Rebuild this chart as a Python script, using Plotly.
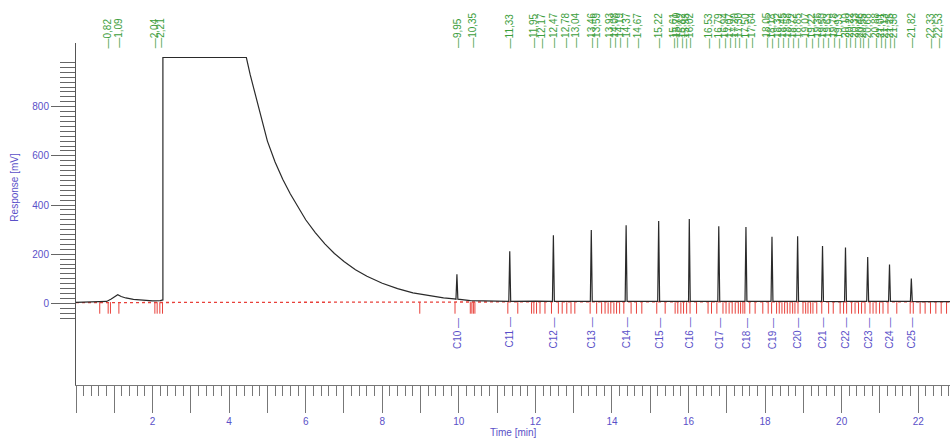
import plotly.graph_objects as go

# ---------------- data ----------------
# continuous part of the chromatogram (time [min], response [mV])
signal_t = [0.0, 0.6, 0.8, 0.92, 1.02, 1.09, 1.18, 1.3, 1.5, 1.75, 2.0, 2.2, 2.27, 2.27,
            4.45, 4.55, 4.7, 4.85, 5.0, 5.2, 5.4, 5.6, 5.8, 6.0, 6.25, 6.5, 6.75,
            7.0, 7.3, 7.6, 8.0, 8.4, 8.8, 9.2, 9.6, 9.88]
signal_v = [4, 5, 8, 18, 30, 35, 28, 22, 16, 12, 10, 11, 14, 1000,
            1000, 930, 840, 750, 660, 575, 505, 445, 390, 340, 288, 242, 203,
            170, 137, 110, 82, 60, 43, 31, 22, 18]
tail_t = [10.3, 12.0, 14.0, 16.0, 18.0, 20.0, 22.0, 22.9]
tail_v = [11, 9, 8, 8, 8, 7, 7, 7]

peak_names = ["C10", "C11", "C12", "C13", "C14", "C15", "C16", "C17", "C18",
              "C19", "C20", "C21", "C22", "C23", "C24", "C25"]
peak_times = [9.95, 11.33, 12.47, 13.46, 14.37, 15.22, 16.02, 16.79, 17.50,
              18.18, 18.85, 19.50, 20.10, 20.68, 21.25, 21.82]
peak_heights = [118, 212, 277, 298, 318, 335, 343, 314, 311,
                271, 273, 233, 227, 189, 158, 101]
peak_base = 8

# retention-time labels at the top
rt_labels = ["0,82", "1,09", "2,04", "2,21", "9,95", "10,35", "11,33", "11,95", "12,17",
             "12,47", "12,78", "13,04", "13,46", "13,59", "13,93", "14,08", "14,19",
             "14,37", "14,67", "15,22", "15,61", "15,70", "15,82", "15,93", "16,02",
             "16,53", "16,79", "16,94", "17,07", "17,20", "17,30", "17,50", "17,64",
             "18,05", "18,18", "18,32", "18,45", "18,58", "18,72", "18,85", "19,07",
             "19,22", "19,36", "19,50", "19,63", "19,78", "19,93", "20,10", "20,22",
             "20,33", "20,46", "20,55", "20,68", "20,88", "21,01", "21,13", "21,25",
             "21,36", "21,82", "22,33", "22,53"]

# integration event markers (red ticks under the baseline)
event_t = [0.62, 0.84, 0.90, 1.12, 2.06, 2.12, 2.19, 2.26, 8.98, 9.90, 10.30, 10.34,
           10.38, 10.42, 11.28, 11.54, 11.90, 11.96, 12.03, 12.12, 12.25, 12.42,
           12.60, 12.70, 12.82, 12.93, 13.03, 13.43, 13.60, 13.73, 13.82, 13.90,
           13.97, 14.05, 14.12, 14.20, 14.31, 14.50, 14.64, 14.78, 15.17, 15.39,
           15.65, 15.72, 15.80, 15.87, 15.95, 16.04, 16.21, 16.51, 16.60, 16.74,
           16.90, 16.98, 17.06, 17.14, 17.22, 17.30, 17.36, 17.42, 17.47, 17.60,
           17.74, 17.94, 18.08, 18.17, 18.30, 18.37, 18.44, 18.51, 18.58, 18.65,
           18.72, 18.78, 18.86, 18.99, 19.06, 19.12, 19.19, 19.25, 19.35, 19.48,
           19.66, 19.78, 19.96, 20.05, 20.13, 20.26, 20.35, 20.44, 20.52, 20.61,
           20.74, 20.82, 20.90, 20.99, 21.08, 21.21, 21.44, 21.79, 21.87, 22.05,
           22.18, 22.32, 22.46, 22.60, 22.74]
event_depth = -42

baseline_t = [0.0, 2.3, 6.0, 9.0, 12.0, 16.0, 20.0, 22.9]
baseline_v = [3, 4, 5, 6, 6, 6, 6, 6]

x_ticks = list(range(0, 23))
x_ticktext = [str(v) if (v % 2 == 0 and v > 0) else "" for v in x_ticks]
y_ticks = list(range(0, 1000, 100))
y_ticktext = [str(v) if v % 200 == 0 else "" for v in y_ticks]
y_minor = list(range(-60, 1000, 20))

# ---------------- build ----------------
HALF = 0.025
pts = list(zip(signal_t, signal_v)) + list(zip(tail_t, tail_v))
for t, h in zip(peak_times, peak_heights):
    base = peak_base if t > 10 else 17
    pts += [(t - HALF, base), (t, h), (t + HALF, base)]
# keep the vertical jump order: stable sort by time
pts = sorted(enumerate(pts), key=lambda p: (p[1][0], p[0]))
chrom_x = [p[1][0] for p in pts]
chrom_y = [p[1][1] for p in pts]

ev_x, ev_y = [], []
for t in event_t:
    ev_x += [t, t, None]
    ev_y += [5, event_depth, None]

fig = go.Figure()
fig.add_trace(go.Scatter(x=baseline_t, y=baseline_v, mode="lines",
                         line=dict(color="#e8403a", width=1.3, dash="dot"),
                         hoverinfo="skip", showlegend=False))
fig.add_trace(go.Scatter(x=ev_x, y=ev_y, mode="lines",
                         line=dict(color="#e8403a", width=1),
                         hoverinfo="skip", showlegend=False))
fig.add_trace(go.Scatter(x=chrom_x, y=chrom_y, mode="lines",
                         line=dict(color="#2a2a2a", width=1.2),
                         showlegend=False))

FONT = "Liberation Sans, Arial, sans-serif"
BLUE = "#5a50c8"
GREEN = "#3c9e3c"

ann = []
for lab in rt_labels:
    t = float(lab.replace(",", "."))
    ann.append(dict(x=t, y=1030, xref="x", yref="y", text="—" + lab,
                    textangle=-90, showarrow=False, xanchor="center", yanchor="bottom",
                    font=dict(family=FONT, size=10, color=GREEN)))
for name, t in zip(peak_names, peak_times):
    ann.append(dict(x=t, y=-50, xref="x", yref="y", text=name + " —",
                    textangle=-90, showarrow=False, xanchor="center", yanchor="top",
                    font=dict(family=FONT, size=10, color=BLUE)))
ann.append(dict(x=-0.0698, y=0.58, xref="paper", yref="paper", text="Response [mV]",
                textangle=-90, showarrow=False, xanchor="center", yanchor="middle",
                font=dict(family=FONT, size=10, color=BLUE)))
ann.append(dict(x=0.5, y=-0.14, xref="paper", yref="paper", text="Time [min]",
                showarrow=False, xanchor="center", yanchor="middle",
                font=dict(family=FONT, size=10, color=BLUE)))

fig.update_layout(
    width=950, height=440,
    margin=dict(l=76, r=0, t=43, b=55),
    paper_bgcolor="white", plot_bgcolor="white",
    annotations=ann,
    xaxis=dict(range=[0, 22.83], showgrid=False, zeroline=False,
               showline=True, linecolor="#777", linewidth=1,
               tickmode="array", tickvals=x_ticks, ticktext=x_ticktext,
               ticks="outside", ticklen=27, tickcolor="#777", tickwidth=1,
               tickfont=dict(family=FONT, size=10, color=BLUE),
               minor=dict(dtick=0.2, tick0=0, ticks="outside", ticklen=10,
                          tickcolor="#777", tickwidth=1, showgrid=False)),
    yaxis=dict(range=[-332, 1059], showgrid=False, zeroline=False,
               showline=True, linecolor="#555", linewidth=1,
               tickmode="array", tickvals=y_ticks, ticktext=y_ticktext,
               ticks="outside", ticklen=24, tickcolor="#666", tickwidth=1,
               tickfont=dict(family=FONT, size=10, color=BLUE),
               minor=dict(tickmode="array", tickvals=y_minor, ticks="outside",
                          ticklen=15, tickcolor="#666", tickwidth=1, showgrid=False)),
)

fig.write_html("out.html")
